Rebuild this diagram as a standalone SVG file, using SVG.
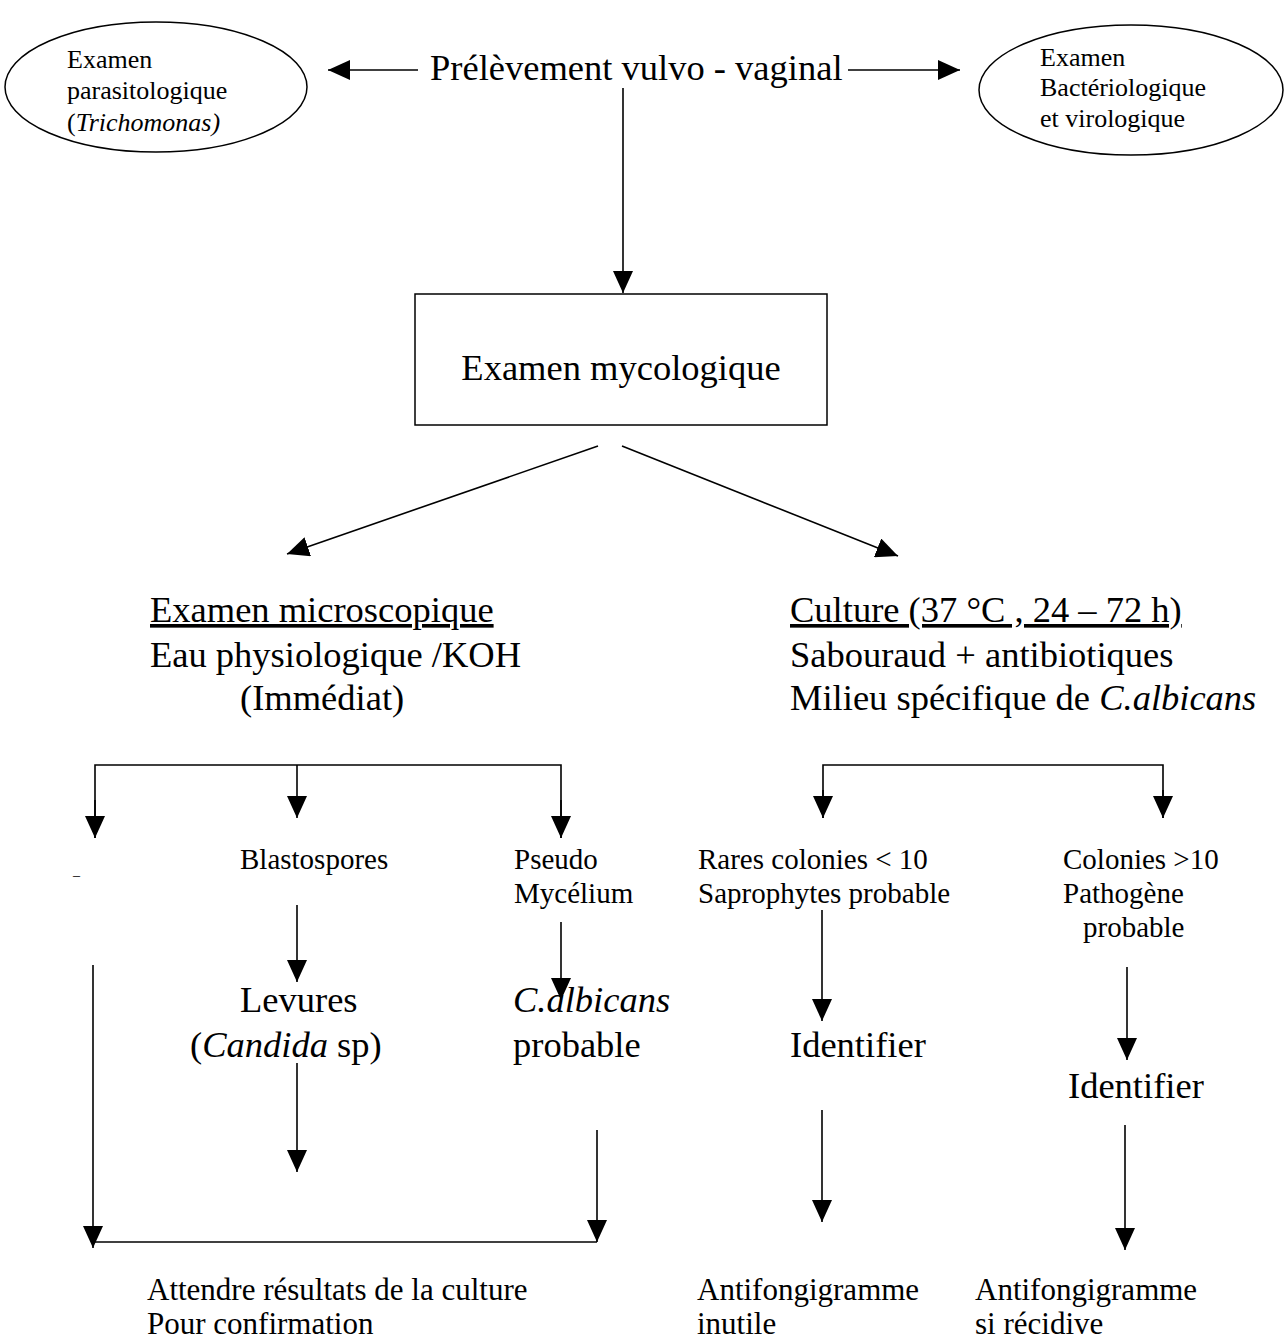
<svg xmlns="http://www.w3.org/2000/svg" width="1287" height="1344" viewBox="0 0 1287 1344">
<style>
text{font-family:"Liberation Serif","Times New Roman",serif;fill:#000}
.big{font-size:36.5px}
.mid{font-size:31px}
.sm{font-size:29px}
.el{font-size:26px}
.i{font-style:italic}
.u{text-decoration:underline}
.ln{stroke:#000;stroke-width:1.6;fill:none}
.ar{marker-end:url(#ah)}
.shape{fill:#fff;stroke:#000;stroke-width:1.5}
</style>
<defs>
<marker id="ah" markerUnits="userSpaceOnUse" markerWidth="22" markerHeight="20" refX="22" refY="10" orient="auto" viewBox="0 0 22 20">
<path d="M0,0 L22,10 L0,20 z" fill="#000"/>
</marker>
</defs>
<rect width="1287" height="1344" fill="#fff"/>

<g id="connectors">
<line class="ln ar" x1="418" y1="70" x2="328" y2="70"/>
<line class="ln ar" x1="848" y1="70" x2="960" y2="70"/>
<line class="ln ar" x1="623" y1="88" x2="623" y2="293"/>
<line class="ln ar" x1="598" y1="446" x2="287" y2="554"/>
<line class="ln ar" x1="622" y1="446" x2="898" y2="556"/>
<polyline class="ln" points="95,838 95,765 561,765 561,838"/>
<line class="ln ar" x1="95" y1="800" x2="95" y2="838"/>
<line class="ln ar" x1="297" y1="765" x2="297" y2="818"/>
<line class="ln ar" x1="561" y1="800" x2="561" y2="838"/>
<line class="ln ar" x1="297" y1="905" x2="297" y2="982"/>
<line class="ln ar" x1="561" y1="922" x2="561" y2="1000"/>
<line class="ln ar" x1="93" y1="965" x2="93" y2="1248"/>
<line class="ln ar" x1="297" y1="1063" x2="297" y2="1172"/>
<line class="ln ar" x1="597" y1="1130" x2="597" y2="1242"/>
<line class="ln" x1="93" y1="1242" x2="597" y2="1242"/>
<polyline class="ln" points="823,818 823,765 1163,765 1163,818"/>
<line class="ln ar" x1="823" y1="790" x2="823" y2="818"/>
<line class="ln ar" x1="1163" y1="790" x2="1163" y2="818"/>
<line class="ln ar" x1="822" y1="910" x2="822" y2="1021"/>
<line class="ln ar" x1="1127" y1="967" x2="1127" y2="1060"/>
<line class="ln ar" x1="822" y1="1110" x2="822" y2="1222"/>
<line class="ln ar" x1="1125" y1="1125" x2="1125" y2="1250"/>
</g>

<g id="prelevement">
<text class="big" x="430" y="80">Prélèvement vulvo - vaginal</text>
</g>

<g id="parasito">
<ellipse class="shape" cx="156" cy="87" rx="151" ry="65"/>
<text class="el" x="67" y="68">Examen</text>
<text class="el" x="67" y="99">parasitologique</text>
<text class="el" x="67" y="131">(<tspan class="i">Trichomonas)</tspan></text>
</g>

<g id="bacterio">
<ellipse class="shape" cx="1131" cy="90" rx="152" ry="65"/>
<text class="el" x="1040" y="66">Examen</text>
<text class="el" x="1040" y="96">Bactériologique</text>
<text class="el" x="1040" y="127">et virologique</text>
</g>

<g id="mycologique">
<rect class="shape" x="415" y="294" width="412" height="131"/>
<text class="big" x="621" y="380" text-anchor="middle">Examen mycologique</text>
</g>

<g id="microscopique">
<text class="big u" x="150" y="622">Examen microscopique</text>
<text class="big" x="150" y="667">Eau physiologique /KOH</text>
<text class="big" x="240" y="710">(Immédiat)</text>
</g>

<g id="culture">
<text class="big u" x="790" y="622">Culture (37 °C , 24 – 72 h)</text>
<text class="big" x="790" y="667">Sabouraud + antibiotiques</text>
<text class="big" x="790" y="710">Milieu spécifique de <tspan class="i">C.albicans</tspan></text>
</g>

<g id="dash">
<text x="73" y="880" style="font-size:14px">–</text>
</g>

<g id="blastospores">
<text class="sm" x="240" y="869">Blastospores</text>
</g>

<g id="pseudomycelium">
<text class="sm" x="514" y="869">Pseudo</text>
<text class="sm" x="514" y="903">Mycélium</text>
</g>

<g id="levures">
<text class="big" x="240" y="1012">Levures</text>
<text class="big" x="190" y="1057">(<tspan class="i">Candida</tspan> sp)</text>
</g>

<g id="calbicans">
<text class="big i" x="513" y="1012">C.albicans</text>
<text class="big" x="513" y="1057">probable</text>
</g>

<g id="rares">
<text class="sm" x="698" y="869">Rares colonies &lt; 10</text>
<text class="sm" x="698" y="903">Saprophytes probable</text>
</g>

<g id="colonies">
<text class="sm" x="1063" y="869">Colonies &gt;10</text>
<text class="sm" x="1063" y="903">Pathogène</text>
<text class="sm" x="1083" y="937">probable</text>
</g>

<g id="identifier1">
<text class="big" x="790" y="1057">Identifier</text>
</g>

<g id="identifier2">
<text class="big" x="1068" y="1098">Identifier</text>
</g>

<g id="attendre">
<text class="mid" x="147" y="1300">Attendre résultats de la culture</text>
<text class="mid" x="147" y="1334">Pour confirmation</text>
</g>

<g id="antifongi1">
<text class="mid" x="697" y="1300">Antifongigramme</text>
<text class="mid" x="697" y="1334">inutile</text>
</g>

<g id="antifongi2">
<text class="mid" x="975" y="1300">Antifongigramme</text>
<text class="mid" x="975" y="1334">si récidive</text>
</g>
</svg>
